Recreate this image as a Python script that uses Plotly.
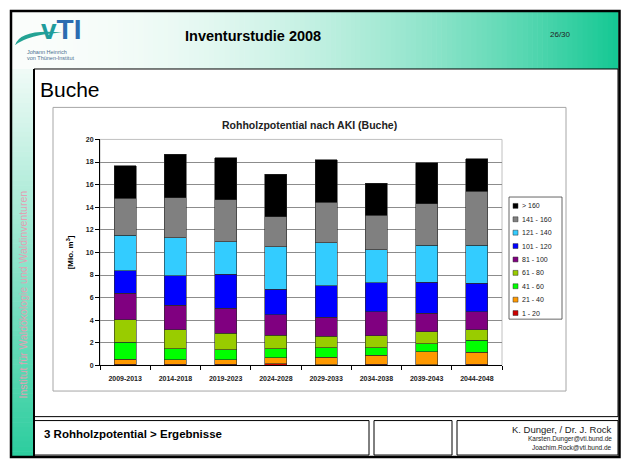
import plotly.graph_objects as go

# Rohholzpotential nach AKI (Buche), Mio. m3 per diameter class
periods = ["2009-2013", "2014-2018", "2019-2023", "2024-2028",
           "2029-2033", "2034-2038", "2039-2043", "2044-2048"]

classes = ["1 - 20", "21 - 40", "41 - 60", "61 - 80", "81 - 100",
           "101 - 120", "121 - 140", "141 - 160", "> 160"]
class_colors = ["#CC0000", "#FF9900", "#00FF00", "#99CC00", "#800080",
                "#0000FF", "#33CCFF", "#808080", "#000000"]

v_1_20 = [0.10, 0.10, 0.10, 0.15, 0.08, 0.12, 0.08, 0.12]
v_21_40 = [0.45, 0.40, 0.40, 0.55, 0.65, 0.78, 1.12, 1.03]
v_41_60 = [1.50, 0.96, 0.88, 0.78, 0.82, 0.67, 0.72, 1.10]
v_61_80 = [1.98, 1.69, 1.48, 1.20, 1.05, 1.05, 1.05, 0.90]
v_81_100 = [2.37, 2.16, 2.19, 1.79, 1.65, 2.13, 1.63, 1.62]
v_101_120 = [1.98, 2.63, 3.04, 2.25, 2.82, 2.56, 2.77, 2.48]
v_121_140 = [3.15, 3.36, 2.86, 3.79, 3.79, 2.91, 3.28, 3.40]
v_141_160 = [3.27, 3.53, 3.71, 2.63, 3.58, 3.08, 3.64, 4.78]
v_over_160 = [2.86, 3.86, 3.73, 3.79, 3.78, 2.80, 3.64, 2.88]

class_values = [v_1_20, v_21_40, v_41_60, v_61_80, v_81_100,
                v_101_120, v_121_140, v_141_160, v_over_160]

W, H = 621, 461
FONT = "Arial, Liberation Sans, sans-serif"


def fx(x):
    # pixel -> paper x
    return x / W


def fy(y):
    # pixel (from top) -> paper y
    return 1 - y / H


def mix(a, b, t):
    return "rgb({},{},{})".format(*[round(a[i] + (b[i] - a[i]) * t) for i in range(3)])


WHITE = (250, 253, 251)
GREEN = (22, 200, 148)

shapes = []
annotations = []

# header gradient (white -> green, left to right)
n_strips = 120
x0, x1 = 12, 618
for i in range(n_strips):
    t = i / (n_strips - 1)
    xa = x0 + (x1 - x0) * i / n_strips
    xb = x0 + (x1 - x0) * (i + 1) / n_strips + 0.6
    shapes.append(dict(type="rect", xref="paper", yref="paper", layer="below",
                       x0=fx(xa), x1=fx(xb), y0=fy(66), y1=fy(7),
                       fillcolor=mix(WHITE, GREEN, t ** 2), line_width=0))

# left strip gradient (top -> bottom)
n_strips = 80
for i in range(n_strips):
    t = i / (n_strips - 1)
    ya = 66 + (459 - 66) * i / n_strips
    yb = 66 + (459 - 66) * (i + 1) / n_strips + 0.6
    shapes.append(dict(type="rect", xref="paper", yref="paper", layer="below",
                       x0=fx(12), x1=fx(34), y0=fy(yb), y1=fy(ya),
                       fillcolor=mix(WHITE, GREEN, 0.05 + 0.85 * t), line_width=0))


def box(xa, ya, xb, yb, color="black", width=1, fill=None):
    shapes.append(dict(type="rect", xref="paper", yref="paper", layer="below",
                       x0=fx(xa), x1=fx(xb), y0=fy(yb), y1=fy(ya),
                       line=dict(color=color, width=width),
                       fillcolor=fill if fill else "rgba(0,0,0,0)"))


# content box, footer boxes, outer frame
box(34, 66, 618, 419, fill="white")
box(34, 423, 369, 458, fill="white")
box(374, 423, 452, 458, fill="white")
box(457, 423, 618, 458, fill="white")
box(11, 7, 619.5, 460, width=2.5)
shapes.append(dict(type="line", xref="paper", yref="paper", layer="below",
                   x0=fx(34), x1=fx(34), y0=fy(460), y1=fy(66),
                   line=dict(color="black", width=2)))

# chart area and plot area outline
box(53, 105, 566, 393, color="#A6A6A6", fill="white")
box(100, 137.5, 502, 367, color="#C0C0C0")

# logo swoosh
swoosh = "M {} {} Q {} {} {} {} Q {} {} {} {} Z".format(
    fx(15), fy(42), fx(20), fy(25), fx(62), fy(29),
    fx(28), fy(31), fx(15), fy(42))
shapes.append(dict(type="path", xref="paper", yref="paper", layer="above",
                   path=swoosh, fillcolor="#23A394", line_width=0))

# custom legend (drawn from class lists)
box(509, 196, 562, 320, color="#404040", width=0.8, fill="white")
for i, (name, col) in enumerate(zip(classes[::-1], class_colors[::-1])):
    yc = 205 + i * 13.6
    shapes.append(dict(type="rect", xref="paper", yref="paper", layer="above",
                       x0=fx(513), x1=fx(518), y0=fy(yc + 2.5), y1=fy(yc - 2.5),
                       fillcolor=col, line=dict(color="#333333", width=0.5)))
    annotations.append(dict(text=name, x=fx(519.5), y=fy(yc), xref="paper", yref="paper",
                            xanchor="left", yanchor="middle", showarrow=False,
                            font=dict(family=FONT, size=7, color="#222222")))


def label(text, x, y, size, color="black", weight="normal", xanchor="left", angle=0):
    annotations.append(dict(text=text, x=fx(x), y=fy(y), xref="paper", yref="paper",
                            xanchor=xanchor, yanchor="middle", showarrow=False,
                            textangle=angle,
                            font=dict(family=FONT, size=size, color=color, weight=weight)))


label("<span style='color:#1F9C9C'>v</span>TI", 61, 26, 28, color="#2B6CB0",
      weight="bold", xanchor="center")
label("Johann Heinrich", 25, 49, 5.5, color="#4A6F8F")
label("von Thünen-Institut", 25, 55, 5.5, color="#4A6F8F")
label("Inventurstudie 2008", 253, 33, 14.5, weight="bold", xanchor="center")
label("26/30", 560, 31, 8, color="#222222", xanchor="center")
label("Buche", 38, 87, 21, color="black")
label("Rohholzpotential nach AKI (Buche)", 309, 123, 10.5, color="#222222",
      weight="bold", xanchor="center")
label("Institut für Waldökologie und Waldinventuren", 23, 295, 10.5,
      color="#E2A0B4", xanchor="center", angle=-90)
label("3 Rohholzpotential > Ergebnisse", 42, 437, 11.5, weight="bold")
label("K. Dunger, / Dr. J. Rock", 614, 432, 9.5, color="#222222", xanchor="right")
label("Karsten.Dunger@vti.bund.de", 614, 442, 6.5, color="#222222", xanchor="right")
label("Joachim.Rock@vti.bund.de", 614, 450, 6.5, color="#222222", xanchor="right")

fig = go.Figure()
for name, col, vals in zip(classes, class_colors, class_values):
    fig.add_trace(go.Bar(x=periods, y=vals, name=name, showlegend=False,
                         marker=dict(color=col, line=dict(color="#2A2A2A", width=0.6))))

fig.update_layout(
    width=W, height=H,
    margin=dict(l=0, r=0, t=0, b=0),
    barmode="stack", bargap=0.56,
    paper_bgcolor="white", plot_bgcolor="rgba(0,0,0,0)",
    font=dict(family=FONT),
    shapes=shapes, annotations=annotations,
    xaxis=dict(domain=[fx(100), fx(502)], showline=True, linecolor="black", linewidth=1,
               ticks="outside", tickson="boundaries", ticklen=4, tickcolor="black",
               ticklabelstandoff=6,
               tickfont=dict(size=7, color="#222222", weight="bold"), fixedrange=True),
    yaxis=dict(domain=[fy(367), fy(137.5)], range=[0, 20], dtick=2,
               showline=True, linecolor="black", linewidth=1,
               ticks="outside", ticklen=4, tickcolor="black",
               showgrid=True, gridcolor="#8C8C8C", gridwidth=1, zeroline=False,
               tickfont=dict(size=7, color="#222222", weight="bold"),
               title=dict(text="[Mio. m<sup>3</sup>]", standoff=10,
                          font=dict(size=8, color="black", weight="bold")),
               fixedrange=True),
)

# drop the default page margin so the figure fills the window exactly
fig.write_html("out.html", config=dict(displayModeBar=False),
               post_script="document.body.style.margin='0';"
                           "document.body.style.overflow='hidden';")
